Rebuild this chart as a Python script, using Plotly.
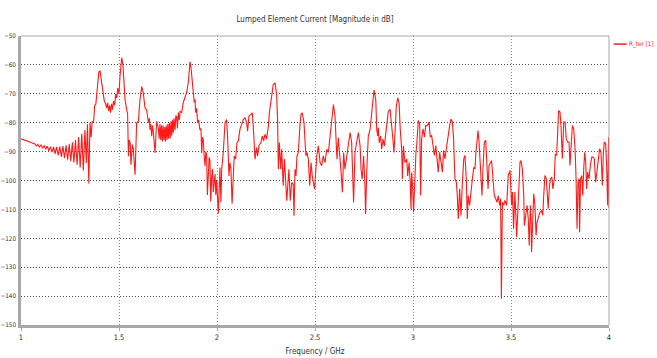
import plotly.graph_objects as go

# ---- data (frequency in GHz, magnitude in dB) ----
freq_a = [1.000, 1.015, 1.030, 1.045, 1.060, 1.070, 1.078, 1.086, 1.094, 1.102, 1.110, 1.118,
          1.126, 1.134, 1.142, 1.150, 1.158, 1.166, 1.174, 1.182, 1.190, 1.198, 1.206, 1.214,
          1.222, 1.230, 1.238, 1.246, 1.254, 1.262, 1.270, 1.278, 1.286, 1.294, 1.302, 1.310,
          1.318, 1.326, 1.333, 1.339, 1.346, 1.352, 1.358, 1.363, 1.370, 1.376, 1.382, 1.390,
          1.397, 1.403, 1.410, 1.418, 1.425, 1.432, 1.437, 1.442, 1.447, 1.452, 1.457, 1.462,
          1.467, 1.472, 1.478, 1.483, 1.488, 1.494, 1.500, 1.505, 1.510, 1.514, 1.520, 1.526]
db_a = [-85.6, -85.9, -86.3, -86.7, -87.1, -87.3, -88.0, -87.5, -88.4, -87.7, -88.8, -87.9,
        -89.2, -88.1, -89.7, -88.3, -90.2, -88.4, -90.8, -88.4, -91.3, -88.3, -91.8, -88.1,
        -92.3, -87.8, -92.8, -87.4, -93.3, -86.8, -93.8, -86.0, -94.5, -85.0, -95.5, -83.8,
        -96.5, -82.5, -94.0, -80.5, -101.0, -80.0, -85.0, -79.5, -80.0, -74.0, -73.5, -66.0,
        -62.5, -62.0, -65.0, -70.0, -72.5, -73.5, -75.0, -73.0, -76.0, -74.0, -76.5, -73.5,
        -75.5, -72.5, -74.0, -70.0, -71.5, -68.0, -70.0, -64.0, -58.5, -57.5, -60.0, -68.0]

freq_b = [1.531, 1.539, 1.544, 1.548, 1.552, 1.557, 1.561, 1.568, 1.573, 1.582, 1.590, 1.599,
          1.607, 1.616, 1.624, 1.633, 1.641, 1.650, 1.655, 1.658, 1.662, 1.667, 1.671, 1.675,
          1.684, 1.692, 1.697, 1.701, 1.705, 1.709, 1.713, 1.717, 1.721, 1.725, 1.729, 1.733,
          1.737, 1.741, 1.745, 1.749, 1.753, 1.757, 1.761, 1.765, 1.769, 1.773, 1.777, 1.781,
          1.786, 1.790, 1.794, 1.798, 1.803, 1.808, 1.812, 1.820, 1.828, 1.837, 1.845, 1.854,
          1.858, 1.862, 1.866, 1.870, 1.874, 1.879, 1.884, 1.888, 1.891, 1.896, 1.901, 1.906,
          1.913, 1.918, 1.922, 1.926, 1.930, 1.935, 1.939, 1.943, 1.947, 1.951, 1.956, 1.960,
          1.964, 1.968, 1.973, 1.977, 1.981, 1.986, 1.990, 1.994, 1.998, 2.007]
db_b = [-72.0, -75.5, -77.0, -91.6, -86.0, -87.0, -94.5, -87.6, -89.0, -98.0, -80.0, -79.5,
        -72.0, -67.5, -69.8, -75.0, -75.5, -80.0, -78.5, -82.4, -80.5, -84.7, -81.0, -83.0,
        -90.5, -79.5, -80.5, -82.0, -85.5, -80.5, -86.0, -81.0, -86.5, -81.0, -86.0, -81.5,
        -86.5, -81.0, -86.0, -80.5, -85.5, -80.0, -85.5, -79.5, -84.5, -79.0, -83.5, -78.5,
        -82.5, -77.5, -78.0, -82.0, -76.5, -79.0, -76.0, -76.5, -73.0, -71.5, -69.5, -66.0,
        -61.0, -59.0, -60.0, -63.5, -66.3, -70.5, -73.0, -72.0, -76.5, -75.0, -80.0, -79.0,
        -82.5, -82.0, -90.5, -85.0, -86.0, -92.0, -95.0, -90.0, -91.0, -105.0, -97.4, -92.0,
        -93.0, -107.3, -98.5, -96.0, -104.0, -99.0, -97.8, -105.0, -100.0, -111.4]

freq_c = [2.015, 2.020, 2.024, 2.032, 2.041, 2.049, 2.054, 2.061, 2.066, 2.071, 2.077, 2.088,
          2.095, 2.102, 2.109, 2.117, 2.126, 2.134, 2.143, 2.151, 2.156, 2.163, 2.173, 2.180,
          2.185, 2.190, 2.194, 2.202, 2.207, 2.214, 2.224, 2.231, 2.238, 2.245, 2.253, 2.262,
          2.267, 2.279, 2.287, 2.296, 2.304, 2.309, 2.313, 2.318, 2.325, 2.330, 2.338, 2.344,
          2.350, 2.356, 2.361, 2.367, 2.374, 2.381, 2.389, 2.393, 2.398, 2.403, 2.408, 2.415,
          2.423, 2.429, 2.435, 2.444, 2.449, 2.454, 2.459, 2.466, 2.473, 2.480, 2.486, 2.493,
          2.498]
db_c = [-95.5, -107.6, -96.1, -90.3, -80.0, -78.9, -84.6, -98.4, -93.8, -96.0, -108.0, -91.5,
        -92.6, -86.9, -86.3, -82.3, -80.6, -78.9, -78.3, -80.0, -82.9, -77.7, -77.1, -76.6,
        -81.1, -88.6, -92.6, -88.6, -91.5, -88.0, -86.9, -84.6, -86.3, -84.0, -85.7, -81.1,
        -76.6, -70.8, -66.8, -66.2, -70.2, -78.9, -96.1, -86.9, -96.1, -89.2, -101.8, -92.6,
        -99.5, -107.0, -101.8, -96.1, -107.0, -100.7, -101.3, -112.2, -96.1, -98.4, -91.5, -90.3,
        -81.1, -77.1, -76.6, -80.0, -86.3, -91.5, -90.3, -92.6, -101.8, -93.8, -98.4, -100.7,
        -103.0]

freq_d = [2.509, 2.517, 2.526, 2.534, 2.542, 2.551, 2.560, 2.568, 2.577, 2.585, 2.594, 2.602,
          2.607, 2.612, 2.619, 2.626, 2.633, 2.640, 2.646, 2.653, 2.662, 2.670, 2.679, 2.687,
          2.692, 2.697, 2.704, 2.713, 2.721, 2.730, 2.735, 2.741, 2.748, 2.755, 2.758, 2.765,
          2.772, 2.781, 2.786, 2.793, 2.801, 2.810, 2.815, 2.820, 2.823, 2.828, 2.835, 2.840,
          2.847, 2.854, 2.861, 2.867, 2.874, 2.883, 2.891, 2.896, 2.903, 2.908, 2.915, 2.922,
          2.929, 2.935, 2.942, 2.946, 2.951, 2.959, 2.968, 2.973, 2.980, 2.985, 2.990, 2.993,
          2.998, 3.003, 3.010, 3.015]
db_d = [-91.5, -88.0, -93.8, -94.9, -91.5, -93.8, -89.2, -90.3, -84.6, -78.9, -73.7, -77.7,
        -85.7, -92.6, -85.2, -90.3, -97.2, -104.1, -90.3, -96.1, -91.5, -86.9, -83.4, -86.9,
        -96.1, -107.6, -90.3, -86.9, -83.4, -88.0, -96.1, -99.5, -91.5, -101.8, -111.6, -94.9,
        -84.6, -82.3, -78.9, -72.0, -68.7, -72.0, -82.3, -84.6, -81.7, -86.9, -84.6, -89.2,
        -85.7, -88.0, -83.4, -80.0, -76.0, -75.4, -80.0, -84.6, -90.3, -84.6, -74.3, -71.4,
        -73.1, -82.3, -89.2, -99.5, -88.0, -93.8, -92.6, -98.4, -93.8, -99.5, -109.9, -97.2,
        -101.8, -111.0, -96.1, -90.3]

freq_e = [3.019, 3.027, 3.034, 3.039, 3.044, 3.051, 3.058, 3.065, 3.073, 3.082, 3.088, 3.095,
          3.102, 3.109, 3.116, 3.122, 3.129, 3.136, 3.143, 3.150, 3.156, 3.163, 3.170, 3.175,
          3.180, 3.187, 3.194, 3.201, 3.207, 3.214, 3.221, 3.226, 3.231, 3.238, 3.245, 3.252,
          3.259, 3.265, 3.272, 3.277, 3.282, 3.289, 3.296, 3.303, 3.310, 3.316, 3.321, 3.327,
          3.332, 3.337, 3.342, 3.347, 3.352, 3.357, 3.364, 3.371, 3.378, 3.383, 3.388, 3.395,
          3.401, 3.408, 3.415, 3.422, 3.429, 3.435, 3.442, 3.447, 3.451, 3.456, 3.463, 3.469,
          3.478, 3.486, 3.495, 3.503, 3.508, 3.513, 3.520, 3.529, 3.537]
db_e = [-87.9, -79.2, -80.4, -105.2, -85.6, -82.1, -85.0, -81.0, -81.0, -79.8, -85.0, -84.4,
        -87.9, -91.3, -87.9, -92.5, -97.1, -90.2, -94.8, -97.1, -89.6, -92.5, -89.0, -85.6,
        -84.4, -81.0, -78.7, -79.8, -85.6, -99.4, -100.6, -105.2, -113.3, -102.9, -112.1, -100.6,
        -92.5, -91.3, -99.4, -113.3, -105.2, -108.6, -102.9, -99.4, -95.4, -96.0, -90.2, -84.4,
        -82.7, -86.7, -94.8, -99.4, -105.2, -96.0, -86.7, -86.1, -93.6, -102.9, -94.8, -93.6,
        -93.1, -99.4, -105.2, -106.3, -107.5, -105.2, -108.6, -106.3, -140.9, -107.5, -108.6, -106.9,
        -108.6, -98.3, -96.5, -108.6, -104.0, -116.7, -104.0, -119.6, -104.0]

freq_f = [3.546, 3.551, 3.558, 3.565, 3.568, 3.575, 3.582, 3.588, 3.593, 3.599, 3.602, 3.605,
          3.611, 3.616, 3.622, 3.628, 3.633, 3.639, 3.648, 3.656, 3.662, 3.667, 3.673, 3.680,
          3.685, 3.690, 3.695, 3.701, 3.708, 3.714, 3.721, 3.726, 3.733, 3.738, 3.743, 3.750,
          3.755, 3.762, 3.769, 3.776, 3.782, 3.789, 3.796, 3.801, 3.806, 3.813, 3.820, 3.827,
          3.832, 3.837, 3.842, 3.847, 3.850, 3.855, 3.861, 3.866, 3.871, 3.876, 3.881, 3.886,
          3.891, 3.898, 3.905, 3.912, 3.920, 3.925, 3.932, 3.939, 3.945, 3.952, 3.959, 3.966,
          3.971, 3.976, 3.983, 3.988, 3.993, 3.998, 4.000]
db_f = [-93.6, -93.1, -96.0, -105.2, -115.6, -112.1, -108.6, -113.3, -122.5, -108.6, -112.1, -124.8,
        -108.6, -104.6, -108.6, -119.0, -114.4, -113.3, -110.9, -110.4, -112.1, -105.2, -98.3, -99.4,
        -106.3, -109.8, -102.9, -99.4, -98.8, -102.9, -99.4, -90.8, -91.3, -82.1, -75.8, -76.3,
        -81.0, -92.5, -79.8, -79.8, -85.6, -86.7, -86.7, -94.8, -87.9, -81.0, -82.1, -89.0,
        -99.4, -116.7, -100.6, -99.4, -117.9, -99.4, -98.3, -105.2, -96.0, -90.2, -93.6, -102.9,
        -97.1, -99.4, -94.8, -91.9, -91.9, -92.5, -100.6, -96.0, -91.3, -89.0, -90.2, -101.7,
        -90.8, -86.7, -87.3, -94.8, -108.6, -85.0, -109.5]

series_name = "R_ter [1]"
title_text = "Lumped Element Current [Magnitude in dB]"
x_title = "Frequency / GHz"
x_ticks = [1, 1.5, 2, 2.5, 3, 3.5, 4]
x_tick_text = ["1", "1.5", "2", "2.5", "3", "3.5", "4"]
y_ticks = [-50, -60, -70, -80, -90, -100, -110, -120, -130, -140, -150]

freq = freq_a + freq_b + freq_c + freq_d + freq_e + freq_f
mag = db_a + db_b + db_c + db_d + db_e + db_f

FONT = "Liberation Sans Narrow, DejaVu Sans Condensed, Arial Narrow, sans-serif"
RED = "rgb(255,25,25)"

fig = go.Figure()
fig.add_trace(go.Scatter(x=freq, y=mag, mode="lines", name=series_name,
                         line=dict(color=RED, width=1.1), showlegend=False))

fig.update_layout(
    width=657, height=358,
    margin=dict(l=21, r=48, t=36, b=33, autoexpand=False),
    paper_bgcolor="white", plot_bgcolor="white",
    font=dict(family=FONT, size=8, color="#333333"),
    title=dict(text=title_text, x=0.5, xref="paper", xanchor="center",
               y=1 - 19 / 358, yref="container", yanchor="middle",
               font=dict(family=FONT, size=8, color="#333333")),
    xaxis=dict(range=[1, 4], tickvals=x_ticks, ticktext=x_tick_text, automargin=False,
               showgrid=True, gridcolor="#8a8a8a", griddash="1px,2px", gridwidth=1,
               showline=True, linecolor="#a8a8a8", linewidth=2.5, mirror=False,
               ticks="outside", ticklen=3, tickcolor="#a8a8a8",
               tickfont=dict(family=FONT, size=7.5, color="#333333"),
               title=dict(text=x_title, standoff=8, font=dict(family=FONT, size=8, color="#333333")),
               zeroline=False, fixedrange=True),
    yaxis=dict(range=[-150, -50], tickvals=y_ticks, automargin=False,
               showgrid=True, gridcolor="#4a4a4a", griddash="1px,2px", gridwidth=1,
               showline=True, linecolor="#a8a8a8", linewidth=2.5, mirror=False,
               ticks="", ticklabelstandoff=1,
               tickfont=dict(family=FONT, size=6.3, color="#333333"),
               zeroline=False, fixedrange=True),
)

# thin frame on the top and right edges of the plot area
fig.add_shape(type="line", xref="paper", yref="paper", x0=0, x1=1, y0=1, y1=1,
              line=dict(color="#a8a8a8", width=1))
fig.add_shape(type="line", xref="paper", yref="paper", x0=1, x1=1, y0=0, y1=1,
              line=dict(color="#a8a8a8", width=1))

# legend swatch and label (drawn outside the plot area, at the top right)
fig.add_shape(type="line", xref="paper", yref="paper", x0=1.008, x1=1.030, y0=0.972, y1=0.972,
              line=dict(color=RED, width=1.5))
fig.add_annotation(text=series_name, xref="paper", yref="paper", x=1.031, y=0.972,
                   xanchor="left", yanchor="middle", showarrow=False,
                   font=dict(family=FONT, size=6.3, color=RED))

fig.write_html("out.html")
